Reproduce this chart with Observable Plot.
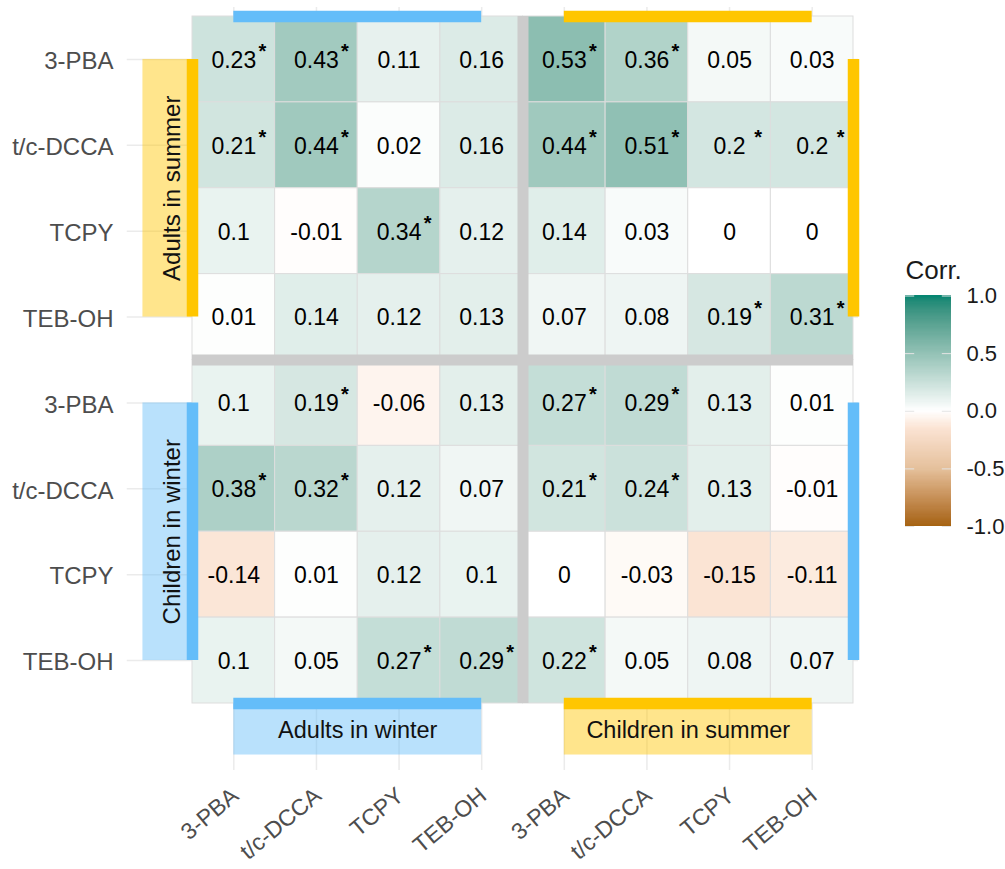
<!DOCTYPE html>
<html><head><meta charset="utf-8">
<script src="https://cdn.jsdelivr.net/npm/d3@7"></script>
<script src="https://cdn.jsdelivr.net/npm/@observablehq/plot@0.6"></script>
<style>
body{margin:0;background:#fff;}
#wrap{position:relative;width:1005px;height:869px;overflow:hidden;}
#main{position:absolute;left:0;top:0;}
#legend{position:absolute;left:885px;top:250px;}
</style></head><body><div id="wrap"><div id="main"></div><div id="legend"></div></div>
<script>
// ---- data ----
const metabolites = ["3-PBA", "t/c-DCCA", "TCPY", "TEB-OH"];
const rowGroups = ["Adults in summer", "Children in winter"];   // y groups (top → bottom)
const colGroups = ["Adults in winter", "Children in summer"];   // x groups (left → right)
const rowGroupColors = ["yellow", "blue"];
const colGroupColors = ["blue", "yellow"];
// rows: Adults in summer metabolites; columns: Adults in winter ×4, Children in summer ×4
const adultsSummer = [
  [0.23, 0.43, 0.11, 0.16, 0.53, 0.36, 0.05, 0.03],
  [0.21, 0.44, 0.02, 0.16, 0.44, 0.51, 0.2, 0.2],
  [0.1, -0.01, 0.34, 0.12, 0.14, 0.03, 0, 0],
  [0.01, 0.14, 0.12, 0.13, 0.07, 0.08, 0.19, 0.31]
];
const childrenWinter = [
  [0.1, 0.19, -0.06, 0.13, 0.27, 0.29, 0.13, 0.01],
  [0.38, 0.32, 0.12, 0.07, 0.21, 0.24, 0.13, -0.01],
  [-0.14, 0.01, 0.12, 0.1, 0, -0.03, -0.15, -0.11],
  [0.1, 0.05, 0.27, 0.29, 0.22, 0.05, 0.08, 0.07]
];
const starsAdultsSummer = [
  [1, 1, 0, 0, 1, 1, 0, 0],
  [1, 1, 0, 0, 1, 1, 1, 1],
  [0, 0, 1, 0, 0, 0, 0, 0],
  [0, 0, 0, 0, 0, 0, 1, 1]
];
const starsChildrenWinter = [
  [0, 1, 0, 0, 1, 1, 0, 0],
  [1, 1, 0, 0, 1, 1, 0, 0],
  [0, 0, 0, 0, 0, 0, 0, 0],
  [0, 0, 1, 1, 1, 0, 0, 0]
];
const legendTicks = [-1, -0.5, 0, 0.5, 1];

// ---- derived tables ----
const rowLabels = metabolites.concat(metabolites);
const colLabels = metabolites.concat(metabolites);
const idx = rowLabels.map((_, i) => i + 1);
const values = adultsSummer.concat(childrenWinter);
const stars = starsAdultsSummer.concat(starsChildrenWinter);
const cells = [];
values.forEach((row, r) => row.forEach((v, c) => cells.push({row: r + 1, col: c + 1, v, star: stars[r][c] === 1})));
const rowBoxes = rowGroups.map((name, i) => ({name, from: 4 * i + 1, to: 4 * i + 4, mid: 4 * i + 2.5, color: rowGroupColors[i]}));
const colBoxes = colGroups.map((name, i) => ({name, from: 4 * i + 1, to: 4 * i + 4, mid: 4 * i + 2.5, color: colGroupColors[i]}));

// ---- styles ----
const stripe = {blue: "#64BDF9", yellow: "#FFC600"};
const FONT = "'Liberation Sans', Arial, Helvetica, sans-serif";
const colorScale = {
  type: "linear",
  domain: [-1, -0.5, -0.15, 0, 1],
  range: ["#a5620f", "#e5c19c", "#fbe4d4", "#ffffff", "#018571"],
  interpolate: "lab"
};
const GRID = "#ebebeb";
const SEP = "#cccccc";

const marks = [
  // panel grid lines
  Plot.ruleX(idx, {x: d => d, y1: 0.395, y2: 9.28, stroke: GRID, strokeWidth: 1.5}),
  Plot.ruleY(idx, {y: d => d, x1: -0.29, x2: 8.56, stroke: GRID, strokeWidth: 1.5}),
  // group boxes (translucent)
  ...rowBoxes.map(d => Plot.rect([d], {x1: -0.1, x2: 0.5, y1: "from", y2: "to", fill: stripe[d.color], fillOpacity: 0.45})),
  ...colBoxes.map(d => Plot.rect([d], {x1: "from", x2: "to", y1: 8.5, y2: 9.1, fill: stripe[d.color], fillOpacity: 0.45})),
  // tiles
  Plot.rect(cells, {x1: d => d.col - 0.5, x2: d => d.col + 0.5, y1: d => d.row - 0.5, y2: d => d.row + 0.5, fill: "v", stroke: "#dddddd", strokeWidth: 1}),
  // separators
  Plot.ruleX([4.5], {x: d => d, y1: 0.5, y2: 8.5, stroke: SEP, strokeWidth: 11}),
  Plot.ruleY([4.5], {y: d => d, x1: 0.5, x2: 8.5, stroke: SEP, strokeWidth: 11}),
  // stripes
  ...colBoxes.map(d => Plot.ruleY([d], {y: 0.5, x1: "from", x2: "to", stroke: stripe[d.color], strokeWidth: 11.5})),
  ...colBoxes.map(d => Plot.ruleY([d], {y: 8.5, x1: "from", x2: "to", stroke: stripe[d.color], strokeWidth: 11.5})),
  ...rowBoxes.map(d => Plot.ruleX([d], {x: 0.5, y1: "from", y2: "to", stroke: stripe[d.color], strokeWidth: 11.5})),
  ...rowBoxes.map(d => Plot.ruleX([d], {x: 8.5, y1: "from", y2: "to", stroke: stripe[d.color], strokeWidth: 11.5})),
  // cell labels
  Plot.text(cells, {x: "col", y: "row", text: d => String(d.v), fontSize: 23, fill: "#000", dy: 1}),
  Plot.text(cells.filter(d => d.star), {x: "col", y: "row", text: () => "*", fontSize: 20, fontWeight: "bold", fill: "#000", dx: 28.5, dy: -8}),
  // group labels
  Plot.text(rowBoxes, {x: 0.25, y: "mid", text: "name", rotate: -90, fontSize: 24, fill: "#111"}),
  Plot.text(colBoxes, {x: "mid", y: 8.816, text: "name", fontSize: 23.5, fill: "#111"}),
  // axes
  Plot.axisY(idx, {tickFormat: d => rowLabels[d - 1], tickSize: 0, tickPadding: 79, fontSize: 24, color: "#4d4d4d", dy: 2, label: null}),
  Plot.axisX(idx, {tickFormat: d => colLabels[d - 1], tickSize: 0, tickPadding: 89, tickRotate: -40, fontSize: 23, color: "#4d4d4d", dx: 1.5, label: null})
];

const main = Plot.plot({
  width: 1005, height: 869,
  marginLeft: 192, marginRight: 152, marginTop: 16, marginBottom: 166,
  x: {domain: [0.5, 8.5]},
  y: {domain: [0.5, 8.5], reverse: true},
  color: colorScale,
  style: {fontFamily: FONT, background: "white", overflow: "visible"},
  marks
});
document.getElementById("main").appendChild(main);

// ---- colour bar legend ----
const ramp = d3.ticks(-1, 1, 200);
const step = ramp[1] - ramp[0];
const legend = Plot.plot({
  width: 120, height: 300,
  marginLeft: 20, marginRight: 54, marginTop: 45.5, marginBottom: 24,
  x: {domain: [0, 1], axis: null},
  y: {domain: [-1, 1]},
  color: colorScale,
  style: {fontFamily: FONT, background: "transparent", overflow: "visible"},
  marks: [
    Plot.rect(ramp.slice(0, -1), {x1: 0, x2: 1, y1: d => d, y2: d => d + step * 1.15, fill: d => d + step / 2, shapeRendering: "crispEdges"}),
    Plot.ruleY(legendTicks, {y: d => d, x1: 0, x2: 0.2, stroke: "#e4e4e4", strokeWidth: 1}),
    Plot.ruleY(legendTicks, {y: d => d, x1: 0.8, x2: 1, stroke: "#e4e4e4", strokeWidth: 1}),
    Plot.axisY(legendTicks, {anchor: "right", tickSize: 0, tickPadding: 15, tickFormat: d => d.toFixed(1), fontSize: 22, color: "#1a1a1a", label: null}),
    Plot.text(["Corr."], {frameAnchor: "top-left", text: d => d, textAnchor: "start", dy: -35, fontSize: 26, fill: "#1a1a1a"})
  ]
});
document.getElementById("legend").appendChild(legend);
</script>
</body></html>
